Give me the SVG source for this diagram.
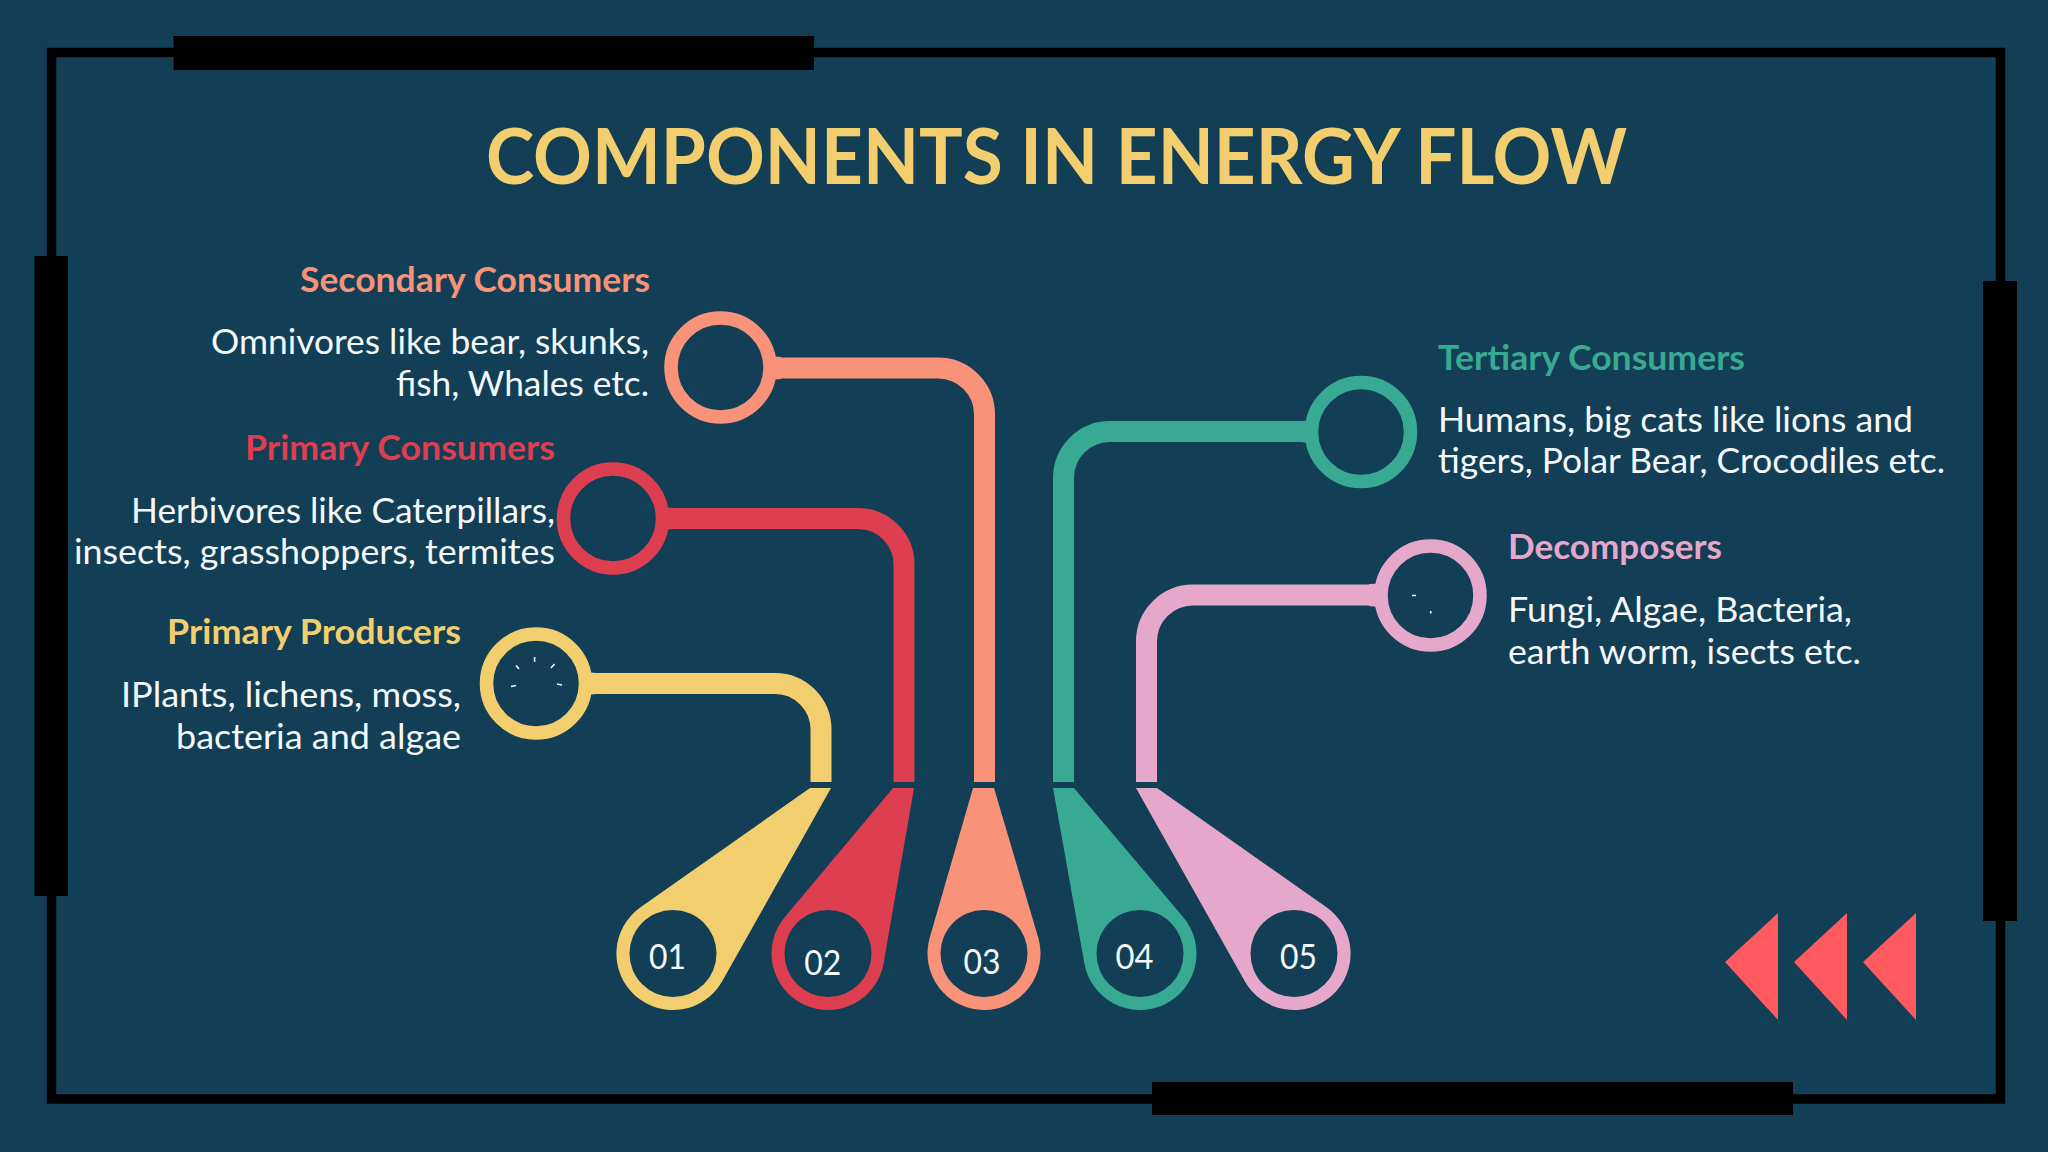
<svg xmlns="http://www.w3.org/2000/svg" width="2048" height="1152" viewBox="0 0 2048 1152">
<style>
text{font-family:"Lato","Carlito","Open Sans",sans-serif}
.t{font-weight:700;font-size:77px;fill:#F3CE6E}
.h{font-weight:700;font-size:34px}
.b{font-size:34px;fill:#F4F8FA}
.n{font-size:35px;fill:#F4F8FA;text-anchor:middle}
.e{text-anchor:end}
.ring{fill:none;stroke-width:13.5}
.c{fill:none;stroke-width:21}
.hole{fill:#123F55}
.tick{stroke:#F4F8FA;stroke-width:1.6;fill:none}
.y{fill:#F3CE6E}.yS{stroke:#F3CE6E}
.r{fill:#DD3E50}.rS{stroke:#DD3E50}
.o{fill:#F89279}.oS{stroke:#F89279}
.g{fill:#38A992}.gS{stroke:#38A992}
.p{fill:#E5A8CB}.pS{stroke:#E5A8CB}
</style>
<rect width="2048" height="1152" fill="#123F55"/>
<g id="frame" fill="#000">
<rect x="51.5" y="52.5" width="1949" height="1046.5" fill="none" stroke="#000" stroke-width="9.5"/>
<rect x="173.5" y="36" width="640.500" height="34"/>
<rect x="1152" y="1082" width="641" height="33"/>
<rect x="34.5" y="256" width="33.5" height="640"/>
<rect x="1983" y="281" width="34" height="640"/>
</g>
<text id="title" class="t" x="486" y="184" textLength="1141" lengthAdjust="spacingAndGlyphs">COMPONENTS IN ENERGY FLOW</text>
<g id="connectors">
<path class="c yS" d="M592 683.5H775A46 46 0 0 1 821 729.5V782"/>
<path class="c rS" d="M669 518.5H858A46 46 0 0 1 904 564.5V782"/>
<path class="c oS" d="M776 368H938A46.5 46.5 0 0 1 984.5 414.5V782"/>
<path class="c gS" d="M1305 431.5H1110A46.5 46.5 0 0 0 1063.5 478V782"/>
<path class="c pS" d="M1374 595H1193A46.5 46.5 0 0 0 1146.5 641.5V782"/>
</g>
<g id="node-01">
<path class="y" d="M810 788H831L722.2 981.2A56.5 56.5 0 1 1 640.5 907.3Z"/>
<circle class="hole" cx="673" cy="953.5" r="43.5"/>
<text class="n" x="667.5" y="969" textLength="37" lengthAdjust="spacingAndGlyphs">01</text>
<circle class="ring yS" cx="536" cy="683.5" r="49.5"/>
<path class="y" d="M584 671Q590 673 597 673V694Q590 694 584 696Z"/>
<path class="tick" d="M534.6 657V662M516 665.5L519 669M554.5 664L551 668M511 686.5L516 685.5M557 684L562 685"/>
<text class="h e y" x="461" y="644" textLength="294" lengthAdjust="spacingAndGlyphs">Primary Producers</text>
<text class="b e" x="461" y="707" textLength="340" lengthAdjust="spacingAndGlyphs">IPlants, lichens, moss,</text>
<text class="b e" x="461" y="749" textLength="285" lengthAdjust="spacingAndGlyphs">bacteria and algae</text>
</g>
<g id="node-02">
<path class="r" d="M893 788H914L883.7 963.1A56.5 56.5 0 1 1 784.7 917.2Z"/>
<circle class="hole" cx="828" cy="953.5" r="43.5"/>
<text class="n" x="822.7" y="975" textLength="37" lengthAdjust="spacingAndGlyphs">02</text>
<circle class="ring rS" cx="613" cy="518.5" r="49.5"/>
<path class="r" d="M661 506Q667 508 674 508V529Q667 529 661 531Z"/>
<text class="h e r" x="555" y="460" textLength="310" lengthAdjust="spacingAndGlyphs">Primary Consumers</text>
<text class="b e" x="555" y="523" textLength="424" lengthAdjust="spacingAndGlyphs">Herbivores like Caterpillars,</text>
<text class="b e" x="555" y="564" textLength="481" lengthAdjust="spacingAndGlyphs">insects, grasshoppers, termites</text>
</g>
<g id="node-03">
<path class="o" d="M973 788H994L1038.2 937.5A56.5 56.5 0 1 1 929.7 937.8Z"/>
<circle class="hole" cx="984" cy="953.5" r="43.5"/>
<text class="n" x="982" y="974" textLength="37" lengthAdjust="spacingAndGlyphs">03</text>
<circle class="ring oS" cx="720.5" cy="367.5" r="49.5"/>
<path class="o" d="M768 355Q774 357 781 357V379Q774 379 768 381Z"/>
<text class="h e o" x="650" y="292" textLength="350" lengthAdjust="spacingAndGlyphs">Secondary Consumers</text>
<text class="b e" x="649" y="354" textLength="438" lengthAdjust="spacingAndGlyphs">Omnivores like bear, skunks,</text>
<text class="b e" x="649" y="396" textLength="253" lengthAdjust="spacingAndGlyphs">fish, Whales etc.</text>
</g>
<g id="node-04">
<path class="g" d="M1053 788H1074L1183.1 917A56.5 56.5 0 1 1 1084.4 963.5Z"/>
<circle class="hole" cx="1140" cy="953.5" r="43.5"/>
<text class="n" x="1134.6" y="969" textLength="38" lengthAdjust="spacingAndGlyphs">04</text>
<circle class="ring gS" cx="1361" cy="432" r="49.5"/>
<path class="g" d="M1313 419.5Q1307 421 1300 421V442Q1307 442 1313 444.5Z"/>
<text class="h g" x="1438" y="370" textLength="307" lengthAdjust="spacingAndGlyphs">Tertiary Consumers</text>
<text class="b" x="1438" y="432" textLength="475" lengthAdjust="spacingAndGlyphs">Humans, big cats like lions and</text>
<text class="b" x="1438" y="473" textLength="507" lengthAdjust="spacingAndGlyphs">tigers, Polar Bear, Crocodiles etc.</text>
</g>
<g id="node-05">
<path class="p" d="M1136 788H1157L1326.5 907.3A56.5 56.5 0 1 1 1244.8 981.2Z"/>
<circle class="hole" cx="1294" cy="953.5" r="43.5"/>
<text class="n" x="1298.5" y="969" textLength="37" lengthAdjust="spacingAndGlyphs">05</text>
<circle class="ring pS" cx="1430.5" cy="595.5" r="49.5"/>
<path class="p" d="M1382 582.5Q1376 584 1369 584V606Q1376 606 1382 608.5Z"/>
<path class="tick" d="M1412 595.5H1416M1430.7 611V613.5"/>
<text class="h p" x="1508" y="559" textLength="214" lengthAdjust="spacingAndGlyphs">Decomposers</text>
<text class="b" x="1508" y="622" textLength="344" lengthAdjust="spacingAndGlyphs">Fungi, Algae, Bacteria,</text>
<text class="b" x="1508" y="664" textLength="353" lengthAdjust="spacingAndGlyphs">earth worm, isects etc.</text>
</g>
<g id="arrows" fill="#FF5A5F">
<path d="M1725 962L1778 913V1020Z"/>
<path d="M1794 962L1847 913V1020Z"/>
<path d="M1863 962L1916 913V1020Z"/>
</g>
</svg>
